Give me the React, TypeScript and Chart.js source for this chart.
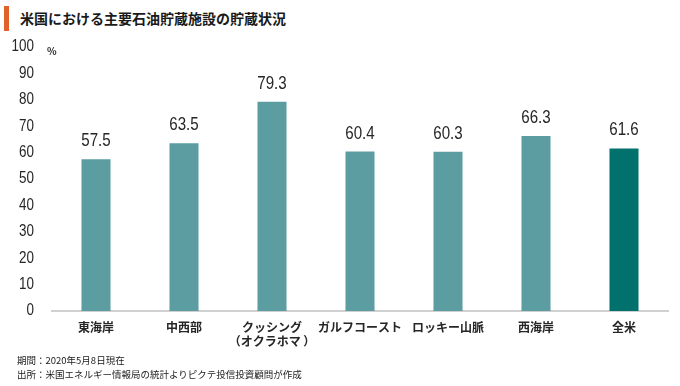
import React, { useEffect, useRef } from "react";
import { Chart, registerables } from "chart.js";

Chart.register(...registerables);

const categories: (string | string[])[] = [
  "東海岸",
  "中西部",
  ["クッシング", "（オクラホマ ）"],
  "ガルフコースト",
  "ロッキー山脈",
  "西海岸",
  "全米",
];
const values: number[] = [57.5, 63.5, 79.3, 60.4, 60.3, 66.3, 61.6];
const yTicks: number[] = [0, 10, 20, 30, 40, 50, 60, 70, 80, 90, 100];

const TITLE = "米国における主要石油貯蔵施設の貯蔵状況";
const NOTE1 = "期間：2020年5月8日現在";
const NOTE2 = "出所：米国エネルギー情報局の統計よりピクテ投信投資顧問が作成";

const NUM_FONT = "'Liberation Sans', Arial, sans-serif";
const JP_FONT = "'Noto Sans CJK JP', sans-serif";
const NARROW = 0.84;

function narrowText(ctx: any, text: string, x: number, y: number) {
  ctx.save();
  ctx.translate(x, y);
  ctx.scale(NARROW, 1);
  ctx.fillText(text, 0, 0);
  ctx.restore();
}

const customLabels = {
  id: "customLabels",
  afterDatasetsDraw(chart: any) {
    const ctx = chart.ctx;
    const meta = chart.getDatasetMeta(0);
    ctx.save();
    ctx.font = `18px ${NUM_FONT}`;
    ctx.fillStyle = "#262626";
    ctx.textAlign = "center";
    ctx.textBaseline = "bottom";
    meta.data.forEach((bar: any, i: number) => {
      narrowText(ctx, values[i].toFixed(1), bar.x, bar.y - 9);
    });
    const y = chart.scales.y;
    ctx.font = `16px ${NUM_FONT}`;
    ctx.textAlign = "right";
    ctx.textBaseline = "middle";
    yTicks.forEach((v) => {
      narrowText(ctx, String(v), 34, y.getPixelForValue(v));
    });
    ctx.restore();
  },
};

export default function App() {
  const ref = useRef<HTMLCanvasElement | null>(null);
  useEffect(() => {
    if (!ref.current) return;
    const colors = values.map((_, i) => (i === values.length - 1 ? "#00716C" : "#5B9DA1"));
    const chart = new Chart(ref.current, {
      type: "bar",
      data: {
        labels: categories,
        datasets: [
          {
            data: values,
            backgroundColor: colors,
            borderWidth: 0,
            barPercentage: 0.33,
            categoryPercentage: 1,
          },
        ],
      },
      options: {
        animation: false,
        responsive: false,
        maintainAspectRatio: false,
        layout: { padding: { top: 47, bottom: 34, left: 0, right: 12 } },
        plugins: { legend: { display: false }, tooltip: { enabled: false } },
        scales: {
          x: {
            grid: { display: false, drawTicks: false },
            border: { display: true, color: "#D0D0D0", width: 2 },
            ticks: {
              font: { family: JP_FONT, size: 12, weight: "bold" },
              color: "#262626",
              padding: 9,
              maxRotation: 0,
              autoSkip: false,
            },
            afterFit: (axis: any) => {
              axis.height = 41;
            },
          },
          y: {
            min: 0,
            max: 100,
            afterBuildTicks: (axis: any) => {
              axis.ticks = yTicks.map((v) => ({ value: v }));
            },
            grid: { display: false, drawTicks: false },
            border: { display: false },
            ticks: { display: false },
            afterFit: (axis: any) => {
              axis.width = 52;
            },
          },
        },
      },
      plugins: [customLabels],
    });
    return () => chart.destroy();
  }, []);

  return (
    <div style={{ position: "absolute", left: 0, top: 0, width: 680, height: 386, background: "#fff", overflow: "hidden" }}>
      <div style={{ position: "absolute", left: 4, top: 6, width: 5, height: 25, background: "#E0622A" }} />
      <div
        style={{
          position: "absolute",
          left: 20,
          top: 8,
          fontFamily: JP_FONT,
          fontWeight: "bold",
          fontSize: 14,
          lineHeight: "20px",
          color: "#1a1a1a",
          whiteSpace: "nowrap",
        }}
      >
        {TITLE}
      </div>
      <canvas ref={ref} width={680} height={386} style={{ position: "absolute", left: 0, top: 0 }} />
      <div
        style={{
          position: "absolute",
          left: 47,
          top: 43,
          fontFamily: JP_FONT,
          fontWeight: "bold",
          fontSize: 10,
          color: "#262626",
        }}
      >
        %
      </div>
      <div
        style={{
          position: "absolute",
          left: 17,
          top: 353,
          fontFamily: JP_FONT,
          fontSize: 9.5,
          lineHeight: "14px",
          color: "#1a1a1a",
          whiteSpace: "nowrap",
        }}
      >
        <div>{NOTE1}</div>
        <div>{NOTE2}</div>
      </div>
    </div>
  );
}
